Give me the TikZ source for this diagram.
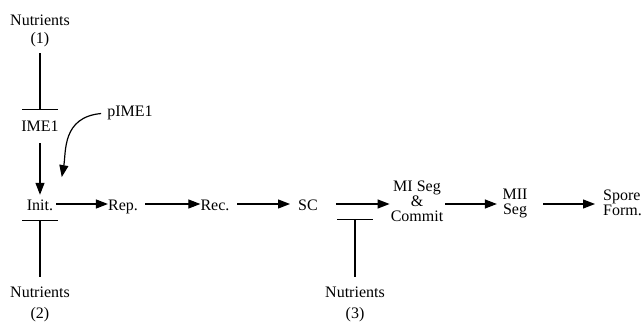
\documentclass[tikz,border=0pt]{standalone}
\usepackage{fontspec}
\setmainfont{Liberation Serif}
\usetikzlibrary{arrows.meta}

\begin{document}
\begin{tikzpicture}[x=1pt,y=-1pt,
    lbl/.style={font=\fontsize{16}{15}\selectfont,inner sep=0pt},
    row/.style={lbl,text height=14pt,text depth=0pt},
    act/.style={line width=1.2pt,-{Triangle[length=12pt,width=9pt]}},
    inh/.style={line width=1.2pt,-{Bar[width=36pt]}}]
    \useasboundingbox (0,0) rectangle (642,323);
    % upstream control of initiation
    \node[lbl,align=center] (nut1) at (40,31) {Nutrients\\[3pt](1)};
    \node[lbl] (ime1) at (40,126) {IME1};
    \node[lbl] (pime1) at (130,113) {pIME1};
    \node[lbl,align=center] (nut2) at (40,304) {Nutrients\\[6pt](2)};
    % main row
    \node[row] (init) at (40,204) {Init.};
    \node[row] (rep) at (123,204) {Rep.};
    \node[row] (rec) at (215,204) {Rec.};
    \node[row] (sc) at (308,204) {SC};
    \node[lbl,align=center] (miseg) at (417,201) {MI Seg\\\&\\Commit};
    \node[lbl,align=center] (miiseg) at (515,203) {MII\\Seg};
    \node[lbl,align=left,anchor=west] (spore) at (603,203) {Spore\\Form.};
    \node[lbl,align=center] (nut3) at (355,304) {Nutrients\\[6pt](3)};
    \coordinate (block) at (355,219);

    \draw[inh,shorten <=6pt,shorten >=10.6pt] (nut1) -- (ime1);
    \draw[act,shorten <=11.6pt,shorten >=2pt] (ime1) -- (init);
    \draw[act,shorten <=6pt,shorten >=20pt] (pime1.west) to[out=185,in=80,looseness=1.2] ([xshift=5pt]init.north east);
    \draw[inh,shorten <=9.5pt,shorten >=9pt] (nut2) -- (init);

    \draw[act,shorten <=3pt] (init) -- (rep);
    \draw[act,shorten <=7pt] (rep) -- (rec);
    \draw[act,shorten <=7.5pt,shorten >=8pt] (rec) -- (sc);
    \draw[act,shorten <=18pt,shorten >=1pt] (sc) -- (sc -| miseg.west);
    \draw[act,shorten <=2pt,shorten >=5.5pt] (miseg.east |- sc) -- (sc -| miiseg.west);
    \draw[act,shorten <=15.5pt,shorten >=8pt] (miiseg.east |- sc) -- (sc -| spore.west);
    \draw[inh,shorten <=9.5pt] (nut3) -- (block);
  \end{tikzpicture}
\end{document}
